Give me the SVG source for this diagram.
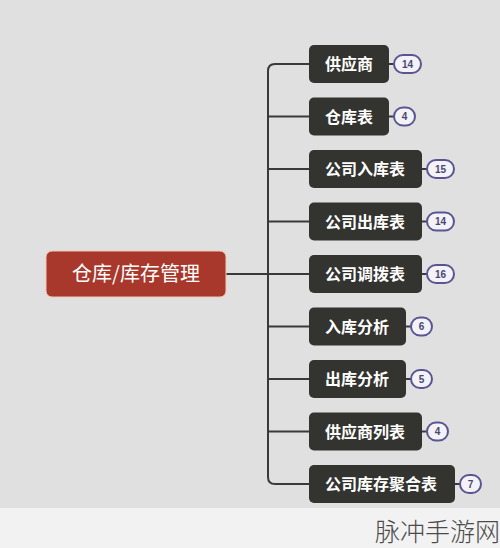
<svg xmlns="http://www.w3.org/2000/svg" width="500" height="548" viewBox="0 0 500 548">
<style>
.bg{fill:#e0e0e0}
.band{fill:#f2f2f2}
.root rect{fill:#a8382b;stroke:#f0c8b8;stroke-width:1}
.root text{fill:#ffffff;font-family:"Noto Sans CJK SC","Liberation Sans",sans-serif;font-size:20px;text-anchor:middle}
.node rect.box{fill:#33332f}
.node text.lbl{fill:#ffffff;font-family:"Noto Sans CJK SC","Liberation Sans",sans-serif;font-size:16px;font-weight:bold;text-anchor:start}
.badge{fill:#f2f2f7;stroke:#5a5592;stroke-width:2}
.num{fill:#4a4672;font-family:"Liberation Sans","Noto Sans",sans-serif;font-size:10px;font-weight:bold;text-anchor:middle}
.conn path,.conn line{fill:none;stroke:#3a3a3a;stroke-width:2}
.wm{fill:#4a4a4a;font-family:"Noto Sans CJK SC",sans-serif;font-size:25px;font-weight:300}
</style>
<rect class="bg" x="0" y="0" width="500" height="508"/>
<rect class="band" x="0" y="508" width="500" height="40"/>
<g class="conn" id="connectors">
<line x1="226" y1="274" x2="309" y2="274"/>
<path d="M309 64 H275 Q268 64 268 71 V477 Q268 484 275 484 H309"/>
<line x1="268" y1="116.5" x2="309" y2="116.5"/>
<line x1="268" y1="169" x2="309" y2="169"/>
<line x1="268" y1="221.5" x2="309" y2="221.5"/>
<line x1="268" y1="326.5" x2="309" y2="326.5"/>
<line x1="268" y1="379" x2="309" y2="379"/>
<line x1="268" y1="431.5" x2="309" y2="431.5"/>
<line x1="389" y1="64" x2="394" y2="64"/>
<line x1="389" y1="116.5" x2="394" y2="116.5"/>
<line x1="422" y1="169" x2="427" y2="169"/>
<line x1="422" y1="221.5" x2="427" y2="221.5"/>
<line x1="422" y1="274" x2="427" y2="274"/>
<line x1="406" y1="326.5" x2="411" y2="326.5"/>
<line x1="406" y1="379" x2="411" y2="379"/>
<line x1="422" y1="431.5" x2="427" y2="431.5"/>
<line x1="455" y1="484" x2="460" y2="484"/>
</g>
<g class="root" id="root">
<rect x="46" y="251" width="180" height="46" rx="6"/>
<text x="136" y="281">仓库/库存管理</text>
</g>
<g class="node" id="n1">
<rect class="box" x="309" y="45" width="80" height="38" rx="5"/>
<text class="lbl" x="325" y="70">供应商</text>
<rect class="badge" x="394" y="55" width="27" height="18" rx="9"/>
<text class="num" x="407.5" y="67.5">14</text>
</g>
<g class="node" id="n2">
<rect class="box" x="309" y="97.5" width="80" height="38" rx="5"/>
<text class="lbl" x="325" y="122.5">仓库表</text>
<rect class="badge" x="394" y="107.5" width="21" height="18" rx="9"/>
<text class="num" x="404.5" y="120">4</text>
</g>
<g class="node" id="n3">
<rect class="box" x="309" y="150" width="113" height="38" rx="5"/>
<text class="lbl" x="325" y="175">公司入库表</text>
<rect class="badge" x="427" y="160" width="27" height="18" rx="9"/>
<text class="num" x="440.5" y="172.5">15</text>
</g>
<g class="node" id="n4">
<rect class="box" x="309" y="202.5" width="113" height="38" rx="5"/>
<text class="lbl" x="325" y="227.5">公司出库表</text>
<rect class="badge" x="427" y="212.5" width="27" height="18" rx="9"/>
<text class="num" x="440.5" y="225">14</text>
</g>
<g class="node" id="n5">
<rect class="box" x="309" y="255" width="113" height="38" rx="5"/>
<text class="lbl" x="325" y="280">公司调拨表</text>
<rect class="badge" x="427" y="265" width="27" height="18" rx="9"/>
<text class="num" x="440.5" y="277.5">16</text>
</g>
<g class="node" id="n6">
<rect class="box" x="309" y="307.5" width="97" height="38" rx="5"/>
<text class="lbl" x="325" y="332.5">入库分析</text>
<rect class="badge" x="411" y="317.5" width="21" height="18" rx="9"/>
<text class="num" x="421.5" y="330">6</text>
</g>
<g class="node" id="n7">
<rect class="box" x="309" y="360" width="97" height="38" rx="5"/>
<text class="lbl" x="325" y="385">出库分析</text>
<rect class="badge" x="411" y="370" width="21" height="18" rx="9"/>
<text class="num" x="421.5" y="382.5">5</text>
</g>
<g class="node" id="n8">
<rect class="box" x="309" y="412.5" width="113" height="38" rx="5"/>
<text class="lbl" x="325" y="437.5">供应商列表</text>
<rect class="badge" x="427" y="422.5" width="21" height="18" rx="9"/>
<text class="num" x="437.5" y="435">4</text>
</g>
<g class="node" id="n9">
<rect class="box" x="309" y="465" width="146" height="38" rx="5"/>
<text class="lbl" x="325" y="490">公司库存聚合表</text>
<rect class="badge" x="460" y="475" width="21" height="18" rx="9"/>
<text class="num" x="470.5" y="487.5">7</text>
</g>
<text class="wm" x="375" y="541">脉冲手游网</text>
</svg>
